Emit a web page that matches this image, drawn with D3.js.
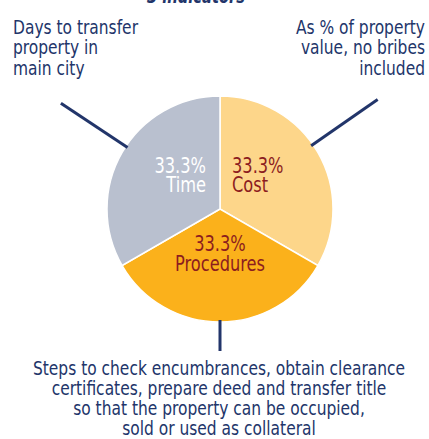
<!DOCTYPE html>
<html lang="en">
  <head>
    <meta charset="utf-8">
    <title>Registering property indicators</title>
    <script src="https://unpkg.com/d3@7/dist/d3.min.js"></script>
    <style type="text/css">
body,html{
    margin: 0;
    padding: 0;
    background: #fff;
  }
svg text{
    font-family: "DejaVu Sans Condensed", "DejaVu Sans", sans-serif;
    font-stretch: condensed;
  }
    </style>
  </head>
  <body>
    <script type="text/javascript">
      // data
      const categories = ["Cost", "Procedures", "Time"];
      const shares = [33.3, 33.3, 33.3];
      const sliceColors = ["#fdd68a", "#fbb11b", "#b9c0cf"];
      const labelColors = ["#8c1d1f", "#8c1d1f", "#ffffff"];
      const titleText = "3 indicators";
      const notes = [
        ["As % of property", "value, no bribes", "included"],
        ["Steps to check encumbrances, obtain clearance", "certificates, prepare deed and transfer title", "so that the property can be occupied,", "sold or used as collateral"],
        ["Days to transfer", "property in", "main city"]
      ];

      const w = 429;
      const h = 439;
      const cx = 220, cy = 209, r = 113;
      const navy = "#22356a";
      const squeeze = 0.86; // narrow the font to look condensed

      const svg = d3.select("body")
        .append("svg")
        .attr("width", w)
        .attr("height", h);

      // multi-line text block, squeezed horizontally
      function addText(parent, x, y, lines, lineH, anchor, size, color){
        let t = parent.append("text")
          .attr("transform", `translate(${x},${y}) scale(${squeeze},1)`)
          .attr("text-anchor", anchor)
          .style("font-size", size + "px")
          .style("fill", color);
        lines.forEach(function(s, j){
          t.append("tspan")
            .attr("x", 0)
            .attr("y", j * lineH)
            .text(s);
        });
        return t;
      }

      // cut-off heading at the very top
      addText(svg, 196, 3, [titleText], 0, "middle", 19, navy)
        .style("font-style", "italic")
        .style("font-weight", "bold");

      const pie = d3.pie().sort(null).value(d => d);
      const arcs = pie(shares);
      const arc = d3.arc().innerRadius(0).outerRadius(r);
      const labelArc = d3.arc().innerRadius(45).outerRadius(45);

      const g = svg.append("g").attr("transform", `translate(${cx},${cy})`);

      g.selectAll("path")
        .data(arcs)
        .enter()
        .append("path")
        .attr("d", arc)
        .attr("fill", (d, i) => sliceColors[i])
        .attr("stroke", "#fff")
        .attr("stroke-width", 1.5);

      // labels inside slices
      const anchors = ["start", "middle", "end"];
      const shiftX = [-27, 0, 25];
      const shiftY = [-14, -3, -14];
      arcs.forEach(function(d, i){
        let c = labelArc.centroid(d);
        addText(g, c[0] + shiftX[i], c[1] + shiftY[i],
          [shares[i].toFixed(1) + "%", categories[i]], 20, anchors[i], 21, labelColors[i]);
      });

      // leader lines from slice edge
      const leaders = [
        {slice: 0, frac: 0.46, len: 79},
        {slice: 1, frac: 0.5, len: 29},
        {slice: 2, frac: 0.53, len: 78}
      ];
      leaders.forEach(function(l){
        let a = arcs[l.slice];
        let angle = a.startAngle + (a.endAngle - a.startAngle) * l.frac;
        let sx = Math.sin(angle), sy = -Math.cos(angle);
        g.append("line")
          .attr("x1", sx * (r - 2))
          .attr("y1", sy * (r - 2))
          .attr("x2", sx * (r + l.len))
          .attr("y2", sy * (r + l.len))
          .attr("stroke", navy)
          .attr("stroke-width", 3);
      });

      // descriptive notes
      const noteX = [425, 219, 13];
      const noteY = [34, 375, 34];
      const noteAnchor = ["end", "middle", "start"];
      const lineH = [20.5, 20, 20.5];
      notes.forEach(function(lines, i){
        addText(svg, noteX[i], noteY[i], lines, lineH[i], noteAnchor[i], 20, navy);
      });
    </script>
  </body>
</html>
